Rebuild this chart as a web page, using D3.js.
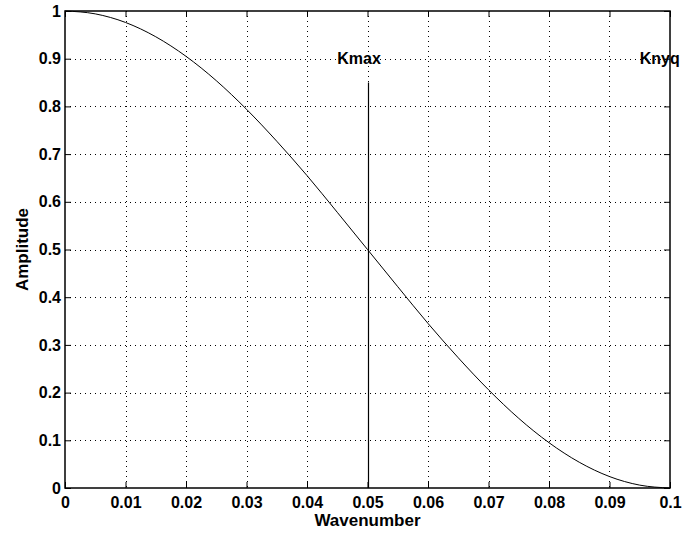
<!DOCTYPE html>
<html>
<head>
<meta charset="utf-8">
<script src="https://cdn.jsdelivr.net/npm/d3@7"></script>
<style>
html,body{margin:0;padding:0;background:#fff;}
svg text{font-family:"Liberation Sans",Arial,Helvetica,sans-serif;font-weight:bold;}
</style>
</head>
<body>
<svg id="chart" width="684" height="534"></svg>
<script>
// Data
const wavenumber = [0,0.005,0.01,0.015,0.02,0.025,0.03,0.035,0.04,0.045,0.05,0.055,0.06,0.065,0.07,0.075,0.08,0.085,0.09,0.095,0.1];
const amplitude  = [1,0.994,0.976,0.946,0.905,0.854,0.794,0.727,0.655,0.578,0.5,0.422,0.345,0.273,0.206,0.146,0.095,0.054,0.024,0.006,0];
const xTicks = [0,0.01,0.02,0.03,0.04,0.05,0.06,0.07,0.08,0.09,0.1];
const xTickLabels = ["0","0.01","0.02","0.03","0.04","0.05","0.06","0.07","0.08","0.09","0.1"];
const yTicks = [0,0.1,0.2,0.3,0.4,0.5,0.6,0.7,0.8,0.9,1];
const yTickLabels = ["0","0.1","0.2","0.3","0.4","0.5","0.6","0.7","0.8","0.9","1"];
const kmaxLine = {x:0.05, y0:0, y1:0.85};
const annotations = [{text:"Kmax", x:0.045, y:0.9},{text:"Knyq", x:0.095, y:0.9}];
const xLabel = "Wavenumber";
const yLabel = "Amplitude";

const L=65, R=670, T=11, B=488;
const svg = d3.select("#chart");
const x = d3.scaleLinear().domain([0,0.1]).range([L,R]);
const y = d3.scaleLinear().domain([0,1]).range([B,T]);
const px = v => Math.round(x(v))+0.5;
const py = v => Math.round(y(v))+0.5;

// grid
const grid = svg.append("g").attr("stroke","#000").attr("stroke-width",1).attr("stroke-dasharray","1,4");
grid.selectAll("line.gx").data(xTicks.slice(1,-1)).enter().append("line")
  .attr("x1",d=>px(d)).attr("x2",d=>px(d)).attr("y1",T).attr("y2",B);
grid.selectAll("line.gy").data(yTicks.slice(1,-1)).enter().append("line")
  .attr("y1",d=>py(d)).attr("y2",d=>py(d)).attr("x1",L).attr("x2",R);

// axes with inward ticks
const fmtX = (d,i)=>xTickLabels[i];
const fmtY = (d,i)=>yTickLabels[i];
const ax = svg.append("g").attr("transform",`translate(0,${B})`)
  .call(d3.axisBottom(x).tickValues(xTicks).tickFormat(fmtX).tickSizeInner(-6).tickSizeOuter(0).tickPadding(9));
const ay = svg.append("g").attr("transform",`translate(${L},0)`)
  .call(d3.axisLeft(y).tickValues(yTicks).tickFormat(fmtY).tickSizeInner(-6).tickSizeOuter(0).tickPadding(4));
const at = svg.append("g").attr("transform",`translate(0,${T})`)
  .call(d3.axisTop(x).tickValues(xTicks).tickFormat("").tickSizeInner(-6).tickSizeOuter(0));
const ar = svg.append("g").attr("transform",`translate(${R},0)`)
  .call(d3.axisRight(y).tickValues(yTicks).tickFormat("").tickSizeInner(-6).tickSizeOuter(0));
[ax,ay,at,ar].forEach(g=>{
  g.selectAll("path").remove();
  g.selectAll("line").attr("stroke","#000");
  g.selectAll("text").attr("fill","#000").style("font-size","16px").style("font-family","'Liberation Sans',Arial,sans-serif").style("font-weight","bold");
});
ax.selectAll("text").attr("dy","0.71em");

// box
svg.append("rect").attr("x",L).attr("y",T).attr("width",R-L).attr("height",B-T)
  .attr("fill","none").attr("stroke","#000").attr("stroke-width",1.5);

// curve
const line = d3.line().x((d,i)=>x(wavenumber[i])).y(d=>y(d)).curve(d3.curveMonotoneX);
svg.append("path").attr("d",line(amplitude)).attr("fill","none").attr("stroke","#000").attr("stroke-width",1);

// Kmax vertical line
svg.append("line").attr("x1",px(kmaxLine.x)).attr("x2",px(kmaxLine.x))
  .attr("y1",y(kmaxLine.y0)).attr("y2",y(kmaxLine.y1)).attr("stroke","#000").attr("stroke-width",1.2);

// annotations
svg.selectAll("text.ann").data(annotations).enter().append("text").attr("class","ann")
  .attr("x",d=>x(d.x)).attr("y",d=>y(d.y)).attr("dy","0.35em")
  .style("font-size","16px").text(d=>d.text);

// axis labels
svg.append("text").attr("x",(L+R)/2).attr("y",526).attr("text-anchor","middle").style("font-size","17px").text(xLabel);
svg.append("text").attr("transform",`translate(27.5,${(T+B)/2}) rotate(-90)`).attr("text-anchor","middle").style("font-size","17px").text(yLabel);
</script>
</body>
</html>
